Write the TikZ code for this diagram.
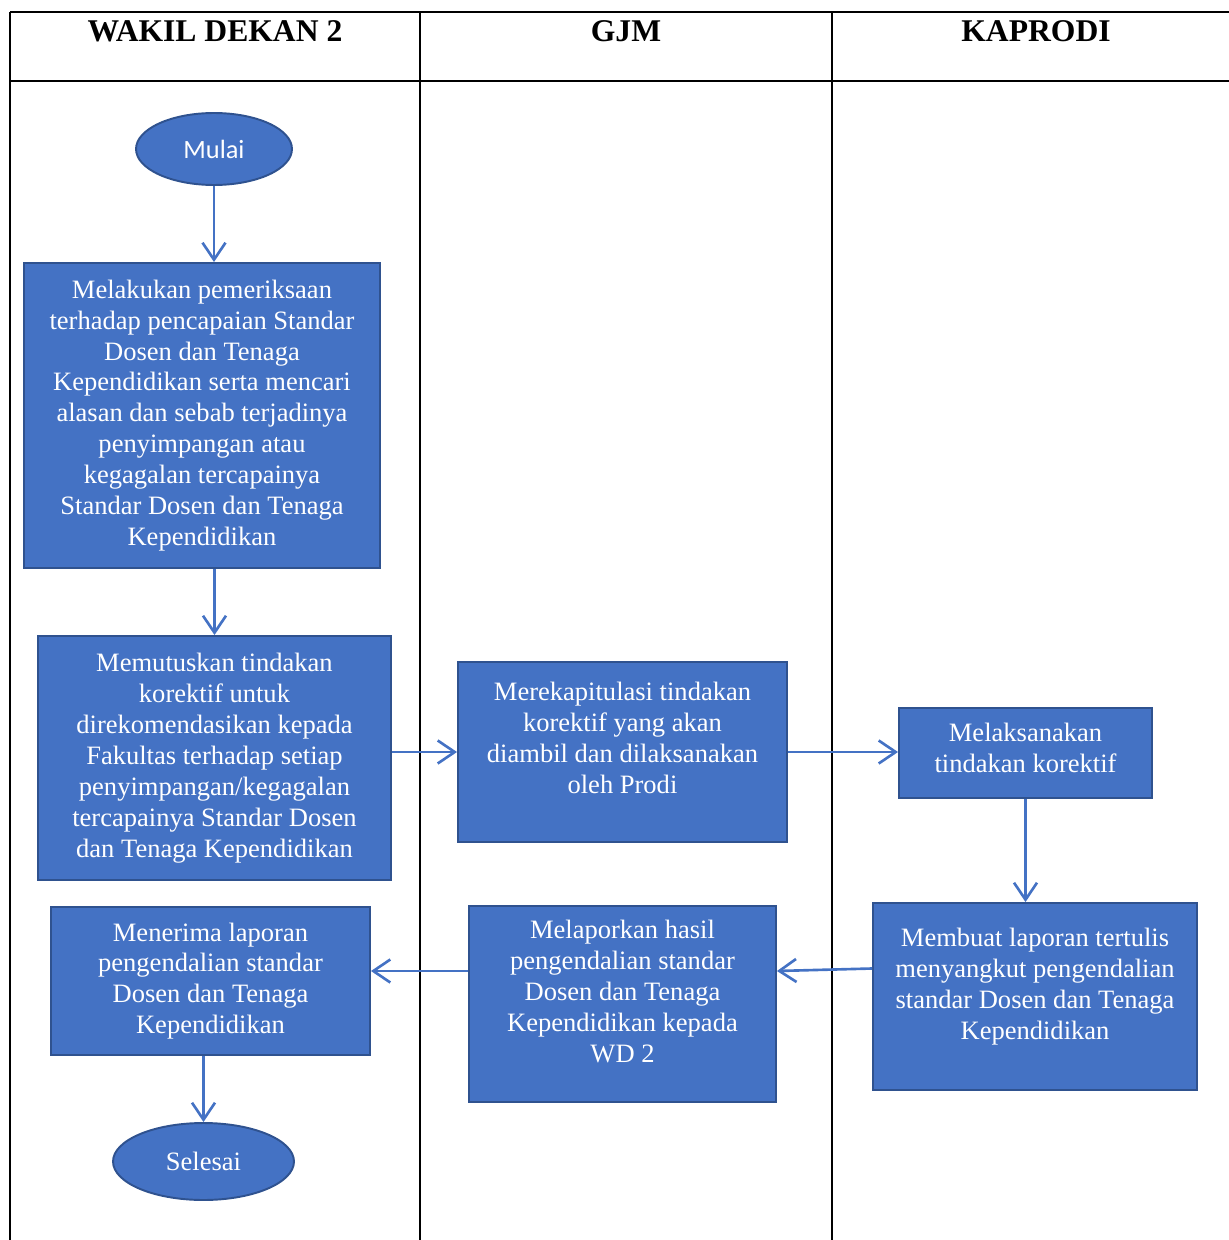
\documentclass[tikz,border=0pt]{standalone}
\usepackage{fontspec}
\setmainfont{Liberation Serif}
\newfontfamily\calibri{Carlito}
\usetikzlibrary{arrows.meta,calc,shapes.geometric}
\definecolor{boxblue}{HTML}{4472C4}
\definecolor{edgeblue}{HTML}{2F528F}
% extra depth below the last line, lifts the text a little
\newcommand{\lowpad}[1]{\rule[-#1]{0pt}{#1}}
\tikzset{
  box/.style={draw=edgeblue, fill=boxblue, line width=1.1pt, align=center, inner sep=2pt, text=white, font=\fontsize{15.1}{17.6}\selectfont},
  terminal/.style={ellipse, draw=edgeblue, fill=boxblue, line width=1.1pt, inner sep=0pt, text=white},
  arrow/.style={-{Straight Barb[length=3.4mm,width=4.6mm]}, draw=boxblue, line width=1.5pt},
  lane/.style={line width=1.3pt, black},
  head/.style={font=\bfseries\fontsize{18}{21}\selectfont, anchor=north}
}
\begin{document}
\begin{tikzpicture}[x=0.02cm, y=-0.02cm]
\useasboundingbox (0,0) rectangle (1229,1240);
% lanes
\draw[lane] (10,12) -- (1229,12);
\draw[lane] (10,81) -- (1229,81);
\draw[lane] (10,12) -- (10,1240);
\draw[lane] (420,12) -- (420,1240);
\draw[lane] (832,12) -- (832,1240);
\node[head] (hwd) at (215,14) {WAKIL DEKAN 2};
\node[head] (hgjm) at (626,14) {GJM};
\node[head] (hkap) at (1036,14) {KAPRODI};
% wakil dekan 2
\node[terminal, minimum width=3.12cm, minimum height=1.44cm, font=\calibri\fontsize{15}{18}\selectfont] (mulai) at (214,149) {Mulai};
\node[box, minimum width=7.12cm, minimum height=6.1cm] (wd1) at (202,415.5) {Melakukan pemeriksaan\\terhadap pencapaian Standar\\Dosen dan Tenaga\\Kependidikan serta mencari\\alasan dan sebab terjadinya\\penyimpangan atau\\kegagalan tercapainya\\Standar Dosen dan Tenaga\\Kependidikan};
\node[box, minimum width=7.06cm, minimum height=4.88cm] (wd2) at (214.5,758) {Memutuskan tindakan\\korektif untuk\\direkomendasikan kepada\\Fakultas terhadap setiap\\penyimpangan/kegagalan\\tercapainya Standar Dosen\\dan Tenaga Kependidikan};
\node[box, minimum width=6.38cm, minimum height=2.96cm] (wd3) at (210.5,981) {Menerima laporan\\pengendalian standar\\Dosen dan Tenaga\\Kependidikan};
\node[terminal, minimum width=3.62cm, minimum height=1.54cm, font=\fontsize{15.1}{18}\selectfont] (selesai) at (203.5,1161.5) {Selesai};
% gjm
\node[box, minimum width=6.58cm, minimum height=3.6cm] (gjm1) at (622.5,752) {Merekapitulasi tindakan\\korektif yang akan\\diambil dan dilaksanakan\\oleh Prodi\lowpad{0.58cm}};
\node[box, minimum width=6.14cm, minimum height=3.92cm] (gjm2) at (622.5,1004) {Melaporkan hasil\\pengendalian standar\\Dosen dan Tenaga\\Kependidikan kepada\\WD 2\lowpad{0.5cm}};
% kaprodi
\node[box, minimum width=5.06cm, minimum height=1.8cm] (kap1) at (1025.5,753) {Melaksanakan\\tindakan korektif\lowpad{0.22cm}};
\node[box, minimum width=6.48cm, minimum height=3.74cm] (kap2) at (1035,996.5) {Membuat laporan tertulis\\menyangkut pengendalian\\standar Dosen dan Tenaga\\Kependidikan\lowpad{0.5cm}};
% flow
\draw[arrow] (mulai.south) -- (mulai.south |- wd1.north);
\draw[arrow] (wd2.north |- wd1.south) -- (wd2.north);
\draw[arrow] (gjm1.west -| wd2.east) -- (gjm1.west);
\draw[arrow] (gjm1.east) -- (gjm1.east -| kap1.west);
\draw[arrow] (kap1.south) -- (kap1.south |- kap2.north);
\draw[arrow] ($(kap2.west)+(0,-28)$) -- ($(gjm2.east)+(0,-33)$);
\draw[arrow] ($(gjm2.west)+(0,-33)$) -- ($(wd3.east)+(0,-10)$);
\draw[arrow] (selesai.north |- wd3.south) -- (selesai.north);
\end{tikzpicture}
\end{document}
